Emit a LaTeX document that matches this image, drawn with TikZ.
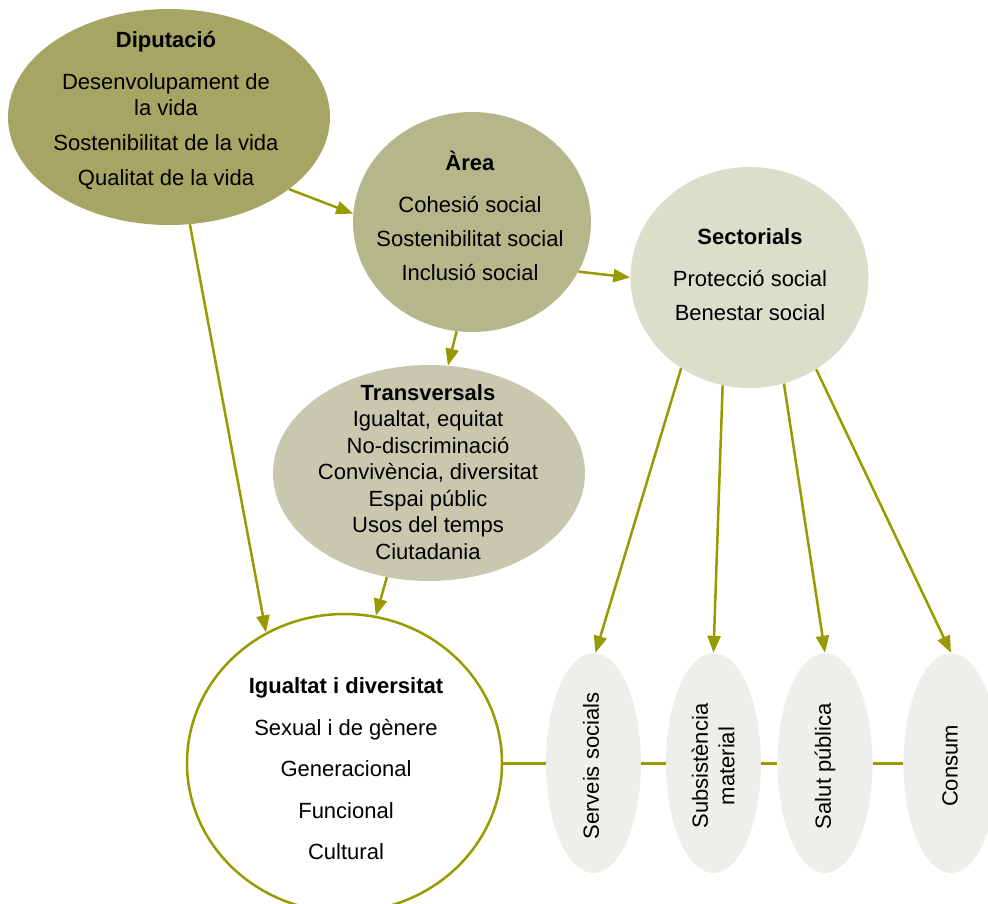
\documentclass[tikz,border=0pt]{standalone}
\usepackage{fontspec}
\setmainfont{Liberation Sans}
\usetikzlibrary{shapes.geometric, arrows.meta}
\definecolor{linkol}{HTML}{999900}
\definecolor{dipfill}{HTML}{A6A563}
\definecolor{areafill}{HTML}{B4B78A}
\definecolor{trafill}{HTML}{C7C8AE}
\definecolor{secfill}{HTML}{DCDDCB}
\definecolor{smallfill}{HTML}{EEEEEA}

\begin{document}
\begin{tikzpicture}[x=1pt, y=-1pt,
  bubble/.style={ellipse, inner sep=0pt},
  leaf/.style={bubble, fill=smallfill, minimum width=95pt, minimum height=220pt},
  txt/.style={align=center, inner sep=0pt, font=\fontsize{22}{26.5}\selectfont},
  conn/.style={draw=linkol, line width=2.5pt, -{Triangle[length=17pt,width=13pt]}}]
\useasboundingbox (0,0) rectangle (988,903);
\clip (0,0) rectangle (988,903);
\node[bubble, fill=dipfill, minimum width=322pt, minimum height=216pt] (dip) at (169,117) {};
\node[bubble, fill=areafill, minimum width=238pt, minimum height=220pt] (are) at (472,222) {};
\node[bubble, fill=secfill, minimum width=238pt, minimum height=221pt] (sec) at (749.5,277.5) {};
\node[bubble, fill=trafill, minimum width=312pt, minimum height=216pt] (tra) at (429,473) {};
\node[bubble, draw=linkol, line width=2.5pt, fill=white, minimum width=315pt, minimum height=298pt] (igu) at (344.5,763) {};
\node[leaf] (ser) at (593.5,763) {};
\node[leaf] (sub) at (713.5,763) {};
\node[leaf] (sal) at (825,763) {};
\node[leaf] (con) at (951,763) {};

\node[txt] (dipT) at (166,111) {\textbf{Diputació}\\[15pt]Desenvolupament de\\la vida\\[8.5pt]Sostenibilitat de la vida\\[8.5pt]Qualitat de la vida};
\node[txt] (areT) at (470,215.5) {\textbf{Àrea}\\[15.5pt]Cohesió social\\[7.5pt]Sostenibilitat social\\[7.5pt]Inclusió social};
\node[txt] (secT) at (750,275) {\textbf{Sectorials}\\[15.5pt]Protecció social\\[7.5pt]Benestar social};
\node[txt] (traT) at (428,472) {\textbf{Transversals}\\Igualtat, equitat\\No-discriminació\\Convivència, diversitat\\Espai públic\\Usos del temps\\Ciutadania};
\node[txt] (iguT) at (346,768.5) {\textbf{Igualtat i diversitat}\\[15.5pt]Sexual i de gènere\\[15pt]Generacional\\[15pt]Funcional\\[15pt]Cultural};
\node[txt, rotate=90] (serT) at (591,766) {Serveis socials};
\node[txt, rotate=90] (subT) at (713,766) {Subsistència\\material};
\node[txt, rotate=90] (salT) at (825,766) {Salut pública};
\node[txt, rotate=90] (conT) at (950,766) {Consum};

\draw[conn] (dip.-31.5) -- (are.176);
\draw[conn] (dip.-79) -- (igu.121);
\draw[conn] (are.-25) -- (sec.west);
\draw[conn] (are.-98) -- (tra.80);
\draw[conn] (tra.-112) -- (igu.78);
\draw[conn] (sec.-127.5) -- (ser.89);
\draw[conn] (sec.-104) -- (sub.north);
\draw[conn] (sec.-72) -- (sal.north);
\draw[conn] (sec.-54.5) -- (con.north);
\foreach \a/\b in {igu/ser, ser/sub, sub/sal, sal/con}
  \draw[linkol, line width=3pt] (\a.east) -- (\b.west);
\end{tikzpicture}
\end{document}
